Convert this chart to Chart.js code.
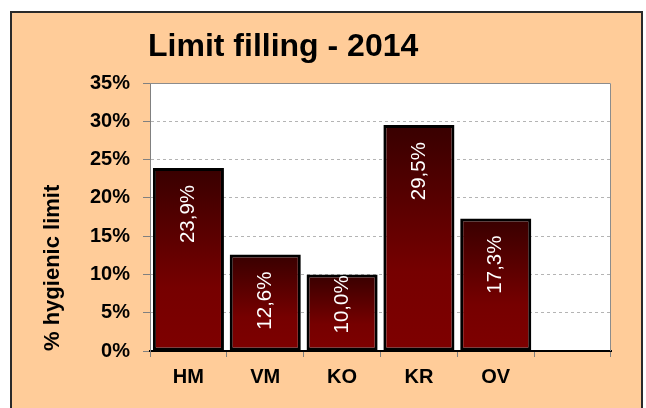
<!DOCTYPE html>
<html>
<head>
<meta charset="utf-8">
<script src="https://cdn.jsdelivr.net/npm/chart.js@4.4.0/dist/chart.umd.min.js"></script>
<style>
body { margin: 0; background: #fff; }
#frame { position: absolute; left: 10px; top: 11px; width: 629px; height: 420px; background: #ffcc99; border: 2px solid #2a2a2a; }
#chart { position: absolute; left: 0; top: 0; }
</style>
</head>
<body>
<div id="frame"></div>
<canvas id="chart" width="646" height="408"></canvas>
<script>
// Limit filling data
let chartTitle = 'Limit filling - 2014';
let axisTitle = '% hygienic limit';
let labels = ['HM', 'VM', 'KO', 'KR', 'OV', ''];
let values = [23.9, 12.6, 10.0, 29.5, 17.3, null];

let font = '"Liberation Sans", Arial, sans-serif';

// white plot area + top/right border
let plotArea = {
    id: 'plotArea',
    beforeDraw(chart) {
        let a = chart.chartArea, ctx = chart.ctx;
        ctx.save();
        ctx.fillStyle = '#fff';
        ctx.fillRect(a.left, a.top, a.right - a.left, a.bottom - a.top);
        ctx.restore();
    },
    beforeDatasetsDraw(chart) {
        let a = chart.chartArea, ctx = chart.ctx;
        ctx.save();
        ctx.strokeStyle = '#8c8c8c';
        ctx.lineWidth = 1;
        ctx.beginPath();
        ctx.moveTo(a.left, a.top + 0.5);
        ctx.lineTo(a.right - 0.5, a.top + 0.5);
        ctx.lineTo(a.right - 0.5, a.bottom);
        ctx.stroke();
        ctx.restore();
    },
    afterDraw(chart) {
        let ctx = chart.ctx;
        ctx.save();
        ctx.font = 'bold 32px ' + font;
        ctx.fillStyle = '#000';
        ctx.textAlign = 'left';
        ctx.textBaseline = 'alphabetic';
        ctx.fillText(chartTitle, 148, 56);
        ctx.restore();
    }
};

// rotated value labels inside the bars
let barLabels = {
    id: 'barLabels',
    afterDatasetsDraw(chart) {
        let ctx = chart.ctx;
        let meta = chart.getDatasetMeta(0);
        ctx.save();
        ctx.font = '20.5px ' + font;
        ctx.fillStyle = '#fff';
        ctx.textAlign = 'right';
        ctx.textBaseline = 'middle';
        meta.data.forEach((bar, i) => {
            let v = values[i];
            if (v == null) return;
            let text = v.toFixed(1).replace('.', ',') + '%';
            let w = ctx.measureText(text).width;
            let top = bar.y + 17;
            if (top + w > bar.base - 17) top = bar.base - 17 - w;
            ctx.save();
            ctx.translate(bar.x, top);
            ctx.rotate(-Math.PI / 2);
            ctx.fillText(text, 0, 0);
            ctx.restore();
        });
        ctx.restore();
    }
};

function barGradient(c) {
    let chart = c.chart;
    let v = c.raw;
    if (!chart.scales.y || v == null) return '#700000';
    let top = chart.scales.y.getPixelForValue(v);
    let base = chart.scales.y.getPixelForValue(0);
    if (!isFinite(top) || !isFinite(base) || top === base) return '#700000';
    let g = chart.ctx.createLinearGradient(0, top, 0, base);
    g.addColorStop(0, '#380000');
    g.addColorStop(0.65, '#760000');
    g.addColorStop(1, '#7e0000');
    return g;
}

let chartLimit = document.getElementById('chart').getContext('2d');

let chart1 = new Chart(chartLimit, {
    type: 'bar',
    data: {
        labels: labels,
        datasets: [{
            data: values,
            backgroundColor: barGradient,
            borderColor: '#000',
            borderWidth: 3,
            borderSkipped: false,
            barPercentage: 0.925,
            categoryPercentage: 1
        }]
    },
    plugins: [plotArea, barLabels],
    options: {
        responsive: false,
        animation: false,
        layout: { padding: { top: 83, left: 12, right: 35, bottom: 11 } },
        plugins: {
            legend: { display: false },
            title: { display: false },
            tooltip: { enabled: false }
        },
        scales: {
            x: {
                grid: { display: true, drawOnChartArea: false, offset: true, tickLength: 6, color: '#808080' },
                border: { color: '#000', width: 2 },
                ticks: { color: '#000', padding: 8, font: { family: font, size: 20, weight: 'bold' } }
            },
            y: {
                min: 0,
                max: 35,
                afterFit: (scale) => { scale.width = 138; },
                ticks: {
                    stepSize: 5,
                    color: '#000',
                    padding: 13,
                    font: { family: font, size: 20, weight: 'bold' },
                    callback: (v) => v + '%'
                },
                grid: { color: '#b4b4b4', tickLength: 7, tickColor: '#808080' },
                border: { color: '#808080', width: 1, dash: [3, 3] },
                title: {
                    display: true,
                    text: axisTitle,
                    align: 'start',
                    color: '#000',
                    padding: { top: 28, bottom: 0 },
                    font: { family: font, size: 22, weight: 'bold' }
                }
            }
        }
    }
});
</script>
</body>
</html>
